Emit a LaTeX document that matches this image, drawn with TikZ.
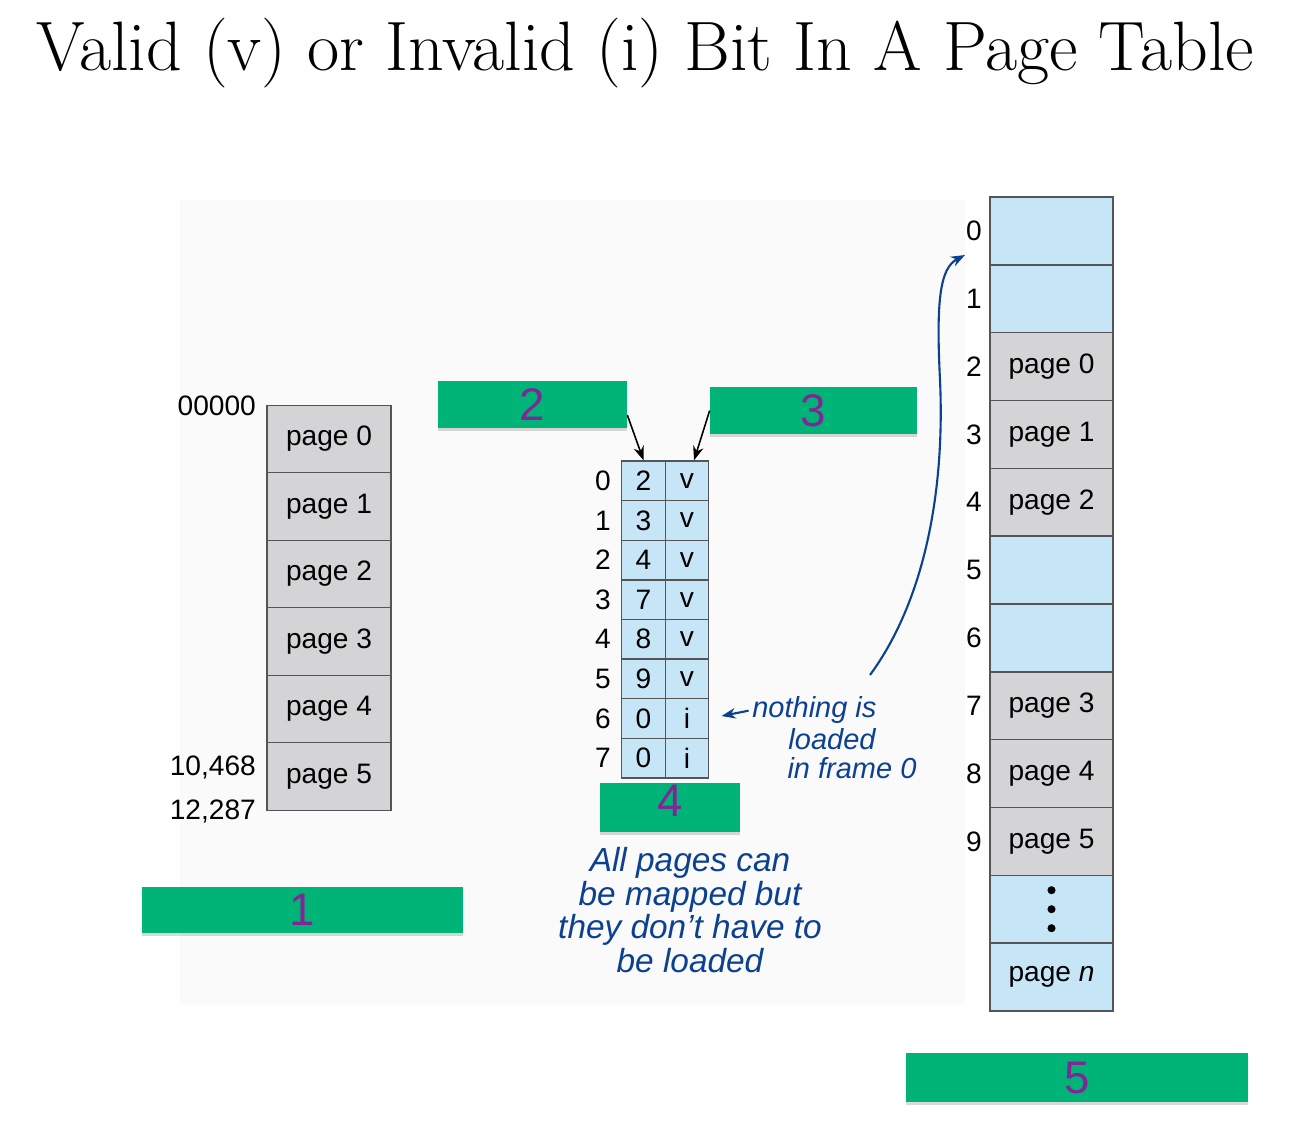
\documentclass[tikz,border=0pt]{standalone}
\usepackage{fontspec}
\setsansfont{Liberation Sans}
\usetikzlibrary{arrows.meta,shadows}
\definecolor{paper}{RGB}{250,250,250}
\definecolor{cellgrey}{RGB}{212,212,214}
\definecolor{cellblue}{RGB}{198,230,248}
\definecolor{cellline}{RGB}{85,85,88}
\definecolor{tapegreen}{RGB}{0,180,120}
\definecolor{pen}{RGB}{128,38,150}
\definecolor{ink}{RGB}{12,64,145}
\tikzset{
  memcell/.style={draw=cellline,line width=0.8pt,minimum width=2.48cm,minimum height=1.35cm,inner sep=0pt},
  frcell/.style={memcell,minimum width=2.46cm,minimum height=1.357cm},
  ptcell/.style={draw=cellline,line width=0.8pt,fill=cellblue,minimum width=0.87cm,minimum height=0.792cm,inner sep=0pt},
  tag/.style={fill=tapegreen,text=pen,inner sep=0pt,font=\sffamily\fontsize{26}{26}\selectfont,
    drop shadow={shadow xshift=0pt,shadow yshift=-1.5pt,opacity=0.3}},
  hand/.style={text=ink,inner sep=1pt,font=\sffamily\itshape\fontsize{19}{19}\selectfont},
  smallhand/.style={hand,inner sep=0pt,font=\sffamily\itshape\fontsize{16.5}{16.5}\selectfont}
}
\begin{document}
\begin{tikzpicture}[x=0.02cm,y=-0.02cm,font=\sffamily\fontsize{16}{18}\selectfont,>={Stealth[length=8pt,width=6pt]}]
\useasboundingbox (0,0) rectangle (1298,1136);
\fill[paper] (180,200) rectangle (965,1005);
\node[font=\rmfamily\fontsize{39.8}{46}\selectfont] (title) at (645,53) {Valid (v) or Invalid (i) Bit In A Page Table};
% logical memory
\foreach \i in {0,...,5}
  \node[memcell,fill=cellgrey] (lp\i) at (329,{439+67.5*\i}) {page \i};
\node[anchor=east] (adr0) at (262,406) {00000};
\node[anchor=east] (adr1) at (262,767) {10,468};
\node[anchor=east] (adr2) at (262,811) {12,287};
% page table
\foreach \f/\b [count=\i from 0] in {2/v,3/v,4/v,7/v,8/v,9/v,0/i,0/i}{
  \node[ptcell] (f\i) at (643.5,{480.8+39.6*\i}) {\f};
  \node[ptcell] (b\i) at (687,{480.8+39.6*\i}) {\b};
  \node (pi\i) at (603,{480.8+39.6*\i}) {\i};
}
% physical memory
\foreach \t/\c [count=\i from 0] in {{}/cellblue,{}/cellblue,page 0/cellgrey,page 1/cellgrey,page 2/cellgrey,{}/cellblue,{}/cellblue,page 3/cellgrey,page 4/cellgrey,page 5/cellgrey,{}/cellblue,page \textit{n}/cellblue}
  \node[frcell,fill=\c] (fr\i) at (1051.5,{230.9+67.83*\i}) {\t};
\foreach \i in {0,...,9}
  \node (fl\i) at (974,{230.9+67.83*\i}) {\i};
\foreach \d in {-19,0,19}
  \fill (fr10.center) ++(0,\d) circle (2.3pt);
% tape labels
\node[tag,minimum width=6.42cm,minimum height=0.92cm] (tag1) at (302.5,910) {1};
\node[tag,minimum width=3.78cm,minimum height=0.94cm] (tag2) at (532.5,404.5) {2};
\node[tag,minimum width=4.14cm,minimum height=0.94cm] (tag3) at (813.5,410.5) {3};
\node[tag,minimum width=2.8cm,minimum height=0.98cm] (tag4) at (670,807.5) {\raisebox{8pt}{4}};
\node[tag,minimum width=6.84cm,minimum height=0.98cm] (tag5) at (1077,1077.5) {5};
\draw[->,line width=0.9pt] ([yshift=-6pt]tag2.east) -- (f0.north);
\draw[->,line width=0.9pt] (tag3.west) -- ([xshift=4pt]b0.north);
% notes
\node[smallhand,anchor=west] (note1) at (752,710) {nothing is};
\node[smallhand] (note2) at (832,739) {loaded};
\node[smallhand] (note3) at (852,768) {in frame 0};
\draw[ink,->,line width=1.2pt,shorten >=7pt,shorten <=2pt] (note1.west) -- (b6.east);
\node[hand,align=center] (note4) at (690,910) {All pages can\\be mapped but\\they don't have to\\be loaded};
\coordinate (bend) at (870,675);
\coordinate (tip) at (965,255);
\draw[ink,->,line width=1.2pt] (bend) .. controls (925,600) and (945,490) .. (940,380) .. controls (936,300) and (940,268) .. (tip);
\end{tikzpicture}
\end{document}
